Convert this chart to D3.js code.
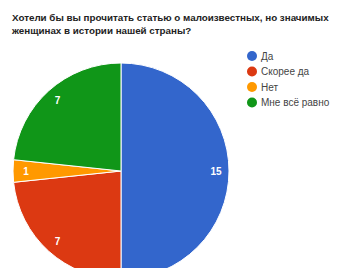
<!DOCTYPE html>
<html>
<head>
<meta charset="utf-8">
<script src="https://cdn.jsdelivr.net/npm/d3@7"></script>
<style>
    body { margin: 0; background: #fff; }
    text { font-family: "Liberation Sans", Arial, sans-serif; }
</style>
</head>
<body>
<div id="chart"></div>
<script>

// answers and counts
const labels = ["Да", "Скорее да", "Нет", "Мне всё равно"];
const counts = [15, 7, 1, 7];
const colors = ["#3366cc", "#dc3912", "#ff9900", "#109618"];
const titleLines = [
    "Хотели бы вы прочитать статью о малоизвестных, но значимых",
    "женщинах в истории нашей страны?"
];

const width = 338, height = 268;

let svg = d3.select("#chart").append("svg")
    .attr("width", width)
    .attr("height", height);

// Title
svg.append("g").selectAll("text")
    .data(titleLines)
    .enter().append("text")
    .attr("x", 12)
    .attr("y", (d, i) => 21 + i * 12.5)
    .attr("font-size", 9.8)
    .attr("font-weight", "bold")
    .attr("fill", "#222")
    .text(d => d);

// Pie
let radius = 108;
let pieArea = svg.append("g")
    .attr("transform", "translate(121,171)");

let pie = d3.pie().sort(null).value(d => d);
let arc = d3.arc().innerRadius(0).outerRadius(radius);
let labelArc = d3.arc().innerRadius(95).outerRadius(95);

let slices = pie(counts);

pieArea.selectAll(".slice")
    .data(slices)
    .enter().append("path")
    .attr("class", "slice")
    .attr("d", arc)
    .attr("fill", (d, i) => colors[i])
    .attr("stroke", "#fff")
    .attr("stroke-width", 1);

pieArea.selectAll(".slice-label")
    .data(slices)
    .enter().append("text")
    .attr("class", "slice-label")
    .attr("transform", d => "translate(" + labelArc.centroid(d) + ")")
    .attr("text-anchor", "middle")
    .attr("dy", "0.35em")
    .attr("font-size", 10)
    .attr("font-weight", "bold")
    .attr("fill", "#fff")
    .text(d => d.data);

// Legend
let legend = svg.append("g")
    .attr("transform", "translate(252,56)");

let items = legend.selectAll(".legend-item")
    .data(labels)
    .enter().append("g")
    .attr("class", "legend-item")
    .attr("transform", (d, i) => "translate(0," + (i * 15.5) + ")");

items.append("circle")
    .attr("r", 5)
    .attr("fill", (d, i) => colors[i]);

items.append("text")
    .attr("x", 9)
    .attr("dy", "0.35em")
    .attr("font-size", 10)
    .attr("fill", "#444")
    .text(d => d);

</script>
</body>
</html>
